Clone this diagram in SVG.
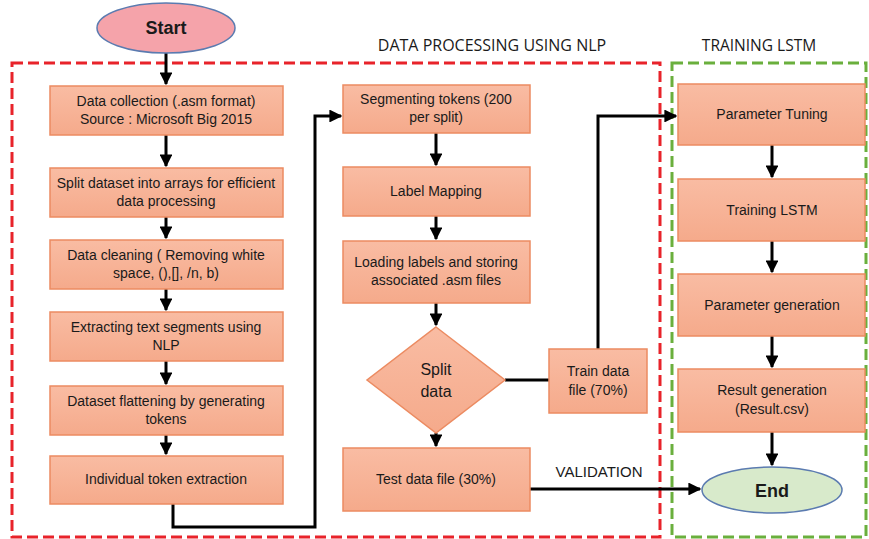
<svg xmlns="http://www.w3.org/2000/svg" width="869" height="539" viewBox="0 0 869 539">
<style>
.box{fill:url(#g);stroke:#EC8B61;stroke-width:1.5}
.t{font-family:"Liberation Sans",Arial,sans-serif;font-size:14px;fill:#1a1a1a;text-anchor:middle}
.h{font-family:"Open Sans","Liberation Sans",sans-serif;font-size:16px;fill:#1a1a1a;text-anchor:middle}
.c{fill:none;stroke:#000;stroke-width:3}
</style>
<defs>
<linearGradient id="g" x1="0" y1="0" x2="0" y2="1">
<stop offset="0" stop-color="#F9BCA3"/>
<stop offset="1" stop-color="#F5AA8B"/>
</linearGradient>
<marker id="a" viewBox="0 0 10 10" refX="9" refY="5" markerWidth="4.3" markerHeight="4.3" orient="auto" markerUnits="strokeWidth">
<path d="M0,0 L10,5 L0,10 z" fill="#000"/>
</marker>
</defs>
<rect width="869" height="539" fill="#fff"/>
<rect x="12" y="63" width="648" height="474" fill="none" stroke="#E8232A" stroke-width="3" stroke-dasharray="11,5"/>
<rect x="672" y="63" width="194" height="474" fill="none" stroke="#6AAF3D" stroke-width="3" stroke-dasharray="11,5"/>
<text class="h" x="492" y="51">DATA PROCESSING USING NLP</text>
<text class="h" x="759" y="51" style="font-size:15.5px">TRAINING LSTM</text>
<g id="connectors">
<path class="c" d="M166,53 V84" marker-end="url(#a)"/>
<path class="c" d="M166,135 V166" marker-end="url(#a)"/>
<path class="c" d="M166,217 V238" marker-end="url(#a)"/>
<path class="c" d="M166,289 V310" marker-end="url(#a)"/>
<path class="c" d="M166,361 V384" marker-end="url(#a)"/>
<path class="c" d="M166,435 V454" marker-end="url(#a)"/>
<path class="c" d="M173,504 V527 H315 V116 H341" marker-end="url(#a)"/>
<path class="c" d="M436,133 V165" marker-end="url(#a)"/>
<path class="c" d="M436,216 V239" marker-end="url(#a)"/>
<path class="c" d="M436,303 V325" marker-end="url(#a)"/>
<path class="c" d="M436,433 V446" marker-end="url(#a)"/>
<path class="c" d="M505,380 H549"/>
<path class="c" d="M598,349 V116 H676" marker-end="url(#a)"/>
<path class="c" d="M530,489 H700" marker-end="url(#a)"/>
<path class="c" d="M772,145 V177" marker-end="url(#a)"/>
<path class="c" d="M772,241 V272" marker-end="url(#a)"/>
<path class="c" d="M772,336 V367" marker-end="url(#a)"/>
<path class="c" d="M772,432 V465" marker-end="url(#a)"/>
<text class="t" x="599" y="477" style="font-size:15px">VALIDATION</text>
</g>
<g id="start">
<ellipse cx="166" cy="28" rx="69" ry="25" fill="#F5A3AA" stroke="#5B7BB0" stroke-width="1.5"/>
<text class="t" x="166" y="34" style="font-size:18px;font-weight:bold">Start</text>
</g>
<g id="n1"><rect class="box" x="50" y="86" width="233" height="49"/>
<text class="t" x="166" y="106">Data collection (.asm format)</text><text class="t" x="166" y="124">Source : Microsoft Big 2015</text></g>
<g id="n2"><rect class="box" x="50" y="168" width="233" height="49"/>
<text class="t" x="166" y="188">Split dataset into arrays for efficient</text><text class="t" x="166" y="206">data processing</text></g>
<g id="n3"><rect class="box" x="50" y="240" width="233" height="49"/>
<text class="t" x="166" y="260">Data cleaning ( Removing white</text><text class="t" x="166" y="278">space, (),[], /n, b)</text></g>
<g id="n4"><rect class="box" x="50" y="312" width="233" height="49"/>
<text class="t" x="166" y="332">Extracting text segments using</text><text class="t" x="166" y="350">NLP</text></g>
<g id="n5"><rect class="box" x="50" y="386" width="233" height="49"/>
<text class="t" x="166" y="406">Dataset flattening by generating</text><text class="t" x="166" y="424">tokens</text></g>
<g id="n6"><rect class="box" x="50" y="456" width="233" height="48"/>
<text class="t" x="166" y="484">Individual token extraction</text></g>
<g id="n7"><rect class="box" x="343" y="85" width="187" height="48"/>
<text class="t" x="436" y="104">Segmenting tokens (200</text><text class="t" x="436" y="122">per split)</text></g>
<g id="n8"><rect class="box" x="343" y="167" width="187" height="49"/>
<text class="t" x="436" y="196">Label Mapping</text></g>
<g id="n9"><rect class="box" x="343" y="241" width="187" height="62"/>
<text class="t" x="436" y="267">Loading labels and storing</text><text class="t" x="436" y="285">associated .asm files</text></g>
<g id="split"><polygon points="436,327 505,380 436,433 367,380" fill="url(#g)" stroke="#EC8B61" stroke-width="1.5"/>
<text class="t" x="436" y="375" style="font-size:16px">Split</text><text class="t" x="436" y="397" style="font-size:16px">data</text></g>
<g id="train"><rect class="box" x="549" y="349" width="98" height="64"/>
<text class="t" x="598" y="376">Train data</text><text class="t" x="598" y="395">file (70%)</text></g>
<g id="test"><rect class="box" x="343" y="448" width="187" height="63"/>
<text class="t" x="436" y="484">Test data file (30%)</text></g>
<g id="r1"><rect class="box" x="678" y="84" width="187" height="61"/>
<text class="t" x="772" y="119">Parameter Tuning</text></g>
<g id="r2"><rect class="box" x="678" y="179" width="187" height="62"/>
<text class="t" x="772" y="215">Training LSTM</text></g>
<g id="r3"><rect class="box" x="678" y="274" width="187" height="62"/>
<text class="t" x="772" y="310">Parameter generation</text></g>
<g id="r4"><rect class="box" x="678" y="369" width="187" height="63"/>
<text class="t" x="772" y="395">Result generation</text><text class="t" x="772" y="414">(Result.csv)</text></g>
<g id="end"><ellipse cx="772" cy="490" rx="70" ry="23" fill="#D8EACB" stroke="#5B7BB0" stroke-width="1.5"/>
<text class="t" x="772" y="497" style="font-size:18px;font-weight:bold">End</text></g>
</svg>
